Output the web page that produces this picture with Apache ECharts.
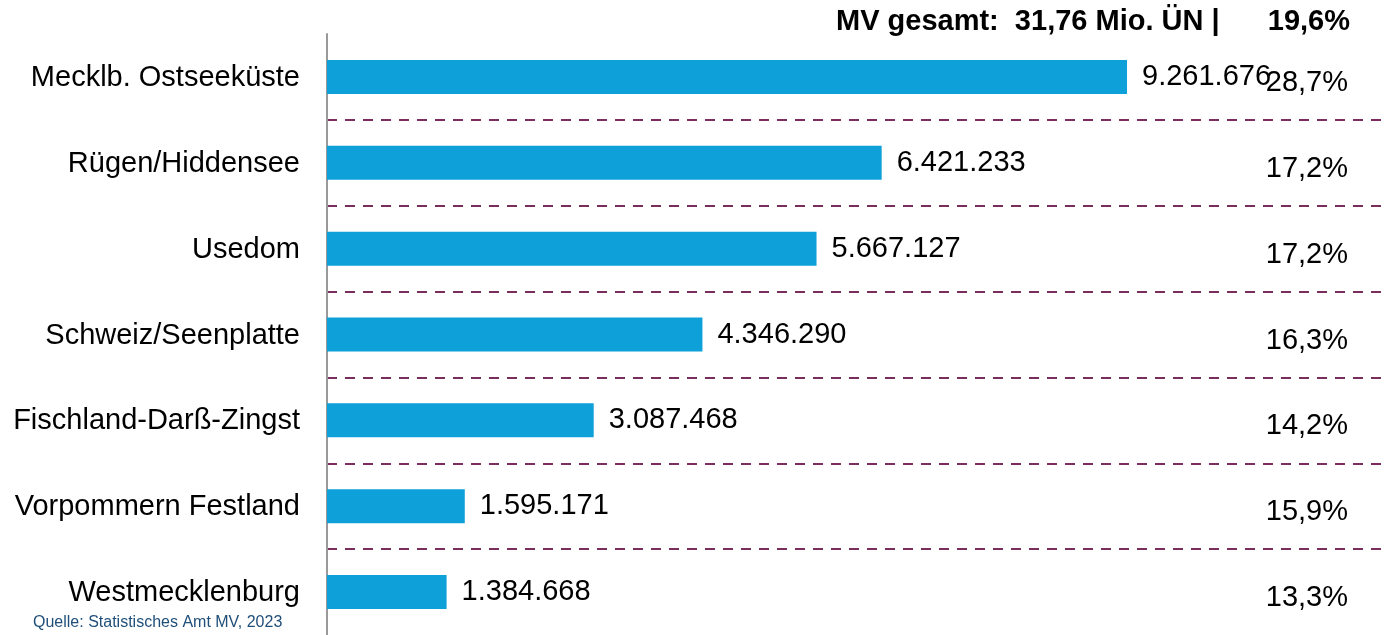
<!DOCTYPE html>
<html>
<head>
<meta charset="utf-8">
<script src="https://cdn.jsdelivr.net/npm/echarts@6/dist/echarts.min.js"></script>
<style>
  html, body { margin: 0; padding: 0; background: #fff; }
  #chart { width: 1385px; height: 635px; }
</style>
</head>
<body>
<div id="chart"></div>
<script>
  // Regionen, Übernachtungen und Anteile
  var regionen = ['Mecklb. Ostseeküste', 'Rügen/Hiddensee', 'Usedom', 'Schweiz/Seenplatte',
    'Fischland-Darß-Zingst', 'Vorpommern Festland', 'Westmecklenburg'];
  var uebernachtungen = [9261676, 6421233, 5667127, 4346290, 3087468, 1595171, 1384668];
  var anteile = ['28,7%', '17,2%', '17,2%', '16,3%', '14,2%', '15,9%', '13,3%'];

  var gesamtText = 'MV gesamt:  31,76 Mio. ÜN |';
  var gesamtAnteil = '19,6%';
  var quelle = 'Quelle: Statistisches Amt MV, 2023';

  function fmt(n) {
    return String(n).replace(/\B(?=(\d{3})+(?!\d))/g, '.');
  }

  var myChart = echarts.init(document.getElementById('chart'));
  var font = 'Liberation Sans, Arial, sans-serif';

  var option = {
    animation: false,
    textStyle: { fontFamily: font },
    grid: { left: 327, right: 2, top: 34, bottom: -2 },
    xAxis: {
      type: 'value',
      min: 0,
      max: 12225000,
      show: false
    },
    yAxis: [{
      type: 'category',
      inverse: true,
      data: regionen,
      axisLine: { show: true, lineStyle: { color: '#999', width: 2 } },
      axisTick: { show: false },
      axisLabel: { color: '#000', fontSize: 29, margin: 27, fontFamily: font, verticalAlign: 'top', lineHeight: 2 },
      splitLine: {
        show: true,
        showMinLine: false,
        showMaxLine: false,
        lineStyle: { color: '#7b2d5e', width: 2, type: [10, 8] }
      }
    }, {
      type: 'category',
      inverse: true,
      position: 'right',
      data: anteile,
      axisLine: { show: false },
      axisTick: { show: false },
      splitLine: { show: false },
      axisLabel: { color: '#000', fontSize: 29, align: 'right', margin: -35, verticalAlign: 'top', lineHeight: 12, fontFamily: font }
    }],
    series: [{
      type: 'bar',
      data: uebernachtungen,
      barWidth: 34,
      itemStyle: { color: '#0ea0d8' },
      label: {
        show: true,
        position: 'right',
        distance: 15,
        color: '#000',
        fontSize: 29,
        fontFamily: font,
        formatter: function (p) { return fmt(p.value); }
      }
    }],
    graphic: [{
      type: 'text',
      x: 836,
      y: 22,
      style: { text: gesamtText, font: 'bold 29px ' + font, fill: '#000', textVerticalAlign: 'middle' }
    }, {
      type: 'text',
      x: 1350,
      y: 22,
      style: { text: gesamtAnteil, font: 'bold 29px ' + font, fill: '#000', textAlign: 'right', textVerticalAlign: 'middle' }
    }, {
      type: 'text',
      x: 33,
      y: 623,
      style: { text: quelle, font: '16px ' + font, fill: '#1f4e79', textVerticalAlign: 'middle' }
    }]
  };
  myChart.setOption(option);
</script>
</body>
</html>
